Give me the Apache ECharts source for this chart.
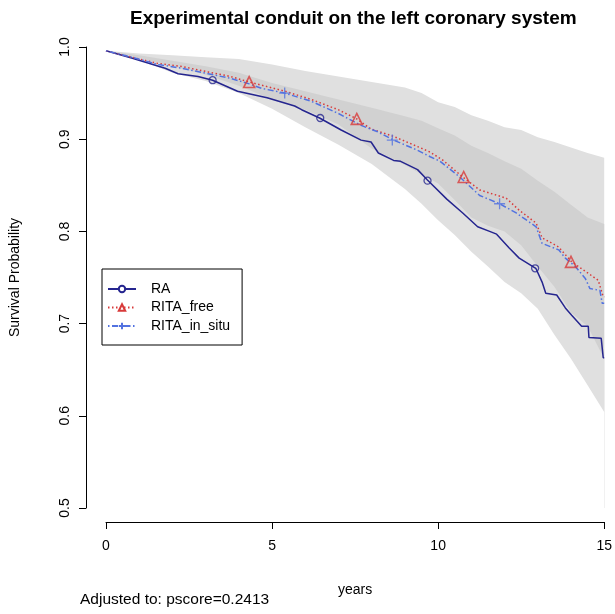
<!DOCTYPE html>
<html>
<head>
<meta charset="utf-8">
<script src="https://cdn.jsdelivr.net/npm/echarts@6/dist/echarts.min.js"></script>
<style>
html,body{margin:0;padding:0;background:#fff;}
#chart{width:615px;height:614px;}
</style>
</head>
<body>
<div id="chart"></div>
<script>
// ---- data ----
const titleText = 'Experimental conduit on the left coronary system';
const noteText = 'Adjusted to: pscore=0.2413';
const seriesNames = ['RA', 'RITA_free', 'RITA_in_situ'];

const raT = [0, 0.77, 1.78, 2.17, 2.77, 3.21, 3.96, 4.85, 5.68, 5.89, 6.43, 7.08, 7.68, 7.98, 8.2, 8.66, 8.87, 9.38, 9.67, 10.26, 10.74, 11.19, 11.55, 11.76, 12.14, 12.44, 12.94, 13.13, 13.24, 13.57, 13.83, 14.02, 14.32, 14.52, 14.54, 14.91, 14.97, 15];
const raS = [0.996, 0.988, 0.977, 0.971, 0.968, 0.964, 0.952, 0.945, 0.936, 0.932, 0.923, 0.910, 0.899, 0.897, 0.885, 0.877, 0.876, 0.867, 0.856, 0.835, 0.820, 0.805, 0.800, 0.797, 0.782, 0.771, 0.760, 0.745, 0.733, 0.731, 0.717, 0.709, 0.697, 0.697, 0.685, 0.684, 0.663, 0.663];

const freeT = [0, 0.77, 1.58, 2.26, 3.07, 3.75, 4.31, 4.85, 5.39, 6.19, 6.99, 7.55, 7.98, 8.66, 9.38, 9.76, 10.15, 10.74, 11.25, 12.05, 12.44, 12.95, 13.13, 13.54, 13.63, 14.02, 14.46, 14.82, 14.97, 15];
const freeS = [0.996, 0.989, 0.982, 0.979, 0.973, 0.968, 0.962, 0.957, 0.952, 0.943, 0.932, 0.922, 0.911, 0.903, 0.892, 0.886, 0.877, 0.859, 0.845, 0.836, 0.823, 0.809, 0.793, 0.785, 0.783, 0.767, 0.756, 0.747, 0.729, 0.729];

const situT = [0, 0.77, 1.58, 2.26, 3.07, 3.75, 4.31, 4.70, 5.38, 6.19, 6.99, 7.68, 8.18, 8.66, 9.38, 9.76, 10.06, 10.65, 11.25, 11.85, 12.35, 12.95, 13.13, 13.63, 13.83, 14.13, 14.43, 14.57, 14.87, 14.94, 15];
const situS = [0.996, 0.989, 0.981, 0.977, 0.971, 0.966, 0.960, 0.955, 0.950, 0.941, 0.928, 0.915, 0.908, 0.899, 0.888, 0.881, 0.876, 0.859, 0.839, 0.830, 0.820, 0.805, 0.787, 0.780, 0.771, 0.762, 0.749, 0.738, 0.736, 0.722, 0.722];

// marker positions on the curves
const raMarkT = [3.21, 6.45, 9.68, 12.92];
const raMarkS = [0.964, 0.923, 0.855, 0.760];
const freeMarkT = [4.31, 7.55, 10.77, 14.0];
const freeMarkS = [0.962, 0.922, 0.859, 0.767];
const situMarkT = [5.38, 8.62, 11.85];
const situMarkS = [0.950, 0.899, 0.830];

// confidence band edges
const bandT = [0, 1, 2, 3, 4, 5, 6, 7, 8, 9, 9.5, 10, 10.5, 11, 11.5, 12, 12.5, 13, 13.5, 14, 14.5, 15];
const ritaUpper = [0.996, 0.993, 0.991, 0.989, 0.987, 0.981, 0.974, 0.968, 0.962, 0.956, 0.950, 0.940, 0.935, 0.926, 0.920, 0.913, 0.910, 0.902, 0.897, 0.891, 0.885, 0.880];
const raUpper   = [0.996, 0.991, 0.985, 0.979, 0.972, 0.961, 0.952, 0.943, 0.934, 0.925, 0.920, 0.912, 0.904, 0.893, 0.885, 0.876, 0.868, 0.855, 0.843, 0.829, 0.815, 0.808];
const ritaLower = [0.996, 0.988, 0.979, 0.970, 0.958, 0.943, 0.932, 0.916, 0.890, 0.872, 0.862, 0.852, 0.834, 0.815, 0.806, 0.800, 0.785, 0.762, 0.740, 0.712, 0.697, 0.662];
const raLower   = [0.996, 0.986, 0.972, 0.963, 0.950, 0.933, 0.913, 0.894, 0.873, 0.846, 0.830, 0.812, 0.796, 0.778, 0.762, 0.745, 0.733, 0.716, 0.688, 0.662, 0.633, 0.604];

const xTickValues = [0, 5, 10, 15];
const yTickValues = [0.5, 0.6, 0.7, 0.8, 0.9, 1.0];

// ---- chart ----
const FONT = '"Liberation Sans", Arial, sans-serif';
const colRA = '#25258f';
const colFree = '#d83a3a';
const colSitu = '#5272e0';
const lightGrey = '#e0e0e0';
const darkGrey = '#d1d1d1';

const zip = (a, b) => a.map((t, i) => [t, b[i]]);

function bandSeries(vals, color) {
  return {
    type: 'line', data: zip(bandT, vals), symbol: 'none', silent: true,
    lineStyle: { width: 0, opacity: 0 },
    areaStyle: { color: color, opacity: 1, origin: 'start' },
    z: 1
  };
}

const crossPath = 'path://M0,5 L10,5 M5,0 L5,10';

const option = {
  animation: false,
  backgroundColor: '#fff',
  textStyle: { fontFamily: FONT },
  title: [
    { text: titleText, left: 130, top: 9, padding: 0,
      textStyle: { fontFamily: FONT, fontSize: 19, fontWeight: 'bold', color: '#000' } },
    { text: noteText, left: 80, top: 592, padding: 0,
      textStyle: { fontFamily: FONT, fontSize: 15.5, fontWeight: 'normal', color: '#000' } }
  ],
  grid: { left: 102, right: 9, top: 47, bottom: 106, containLabel: false },
  xAxis: {
    type: 'value', min: 0, max: 15, interval: 5, offset: 14,
    name: 'years', nameLocation: 'middle', nameGap: 61,
    nameTextStyle: { fontFamily: FONT, fontSize: 14, color: '#000' },
    axisLine: { show: true, onZero: false, lineStyle: { color: '#000', width: 1 } },
    axisTick: { show: true, length: 7, lineStyle: { color: '#000' } },
    axisLabel: { fontFamily: FONT, fontSize: 14, color: '#000', margin: 17,
      formatter: v => xTickValues.includes(v) ? String(v) : '' },
    splitLine: { show: false }
  },
  yAxis: {
    type: 'value', min: 0.5, max: 1.0, interval: 0.1, offset: 20,
    name: 'Survival Probability', nameLocation: 'middle', nameGap: 64,
    nameTextStyle: { fontFamily: FONT, fontSize: 14, color: '#000' },
    axisLine: { show: true, onZero: false, lineStyle: { color: '#000', width: 1 } },
    axisTick: { show: true, length: 7, lineStyle: { color: '#000' } },
    axisLabel: { fontFamily: FONT, fontSize: 14, color: '#000', margin: 14, rotate: 90,
      formatter: v => yTickValues.some(t => Math.abs(t - v) < 1e-9) ? v.toFixed(1) : '' },
    splitLine: { show: false }
  },
  legend: {
    data: seriesNames,
    orient: 'vertical', left: 102, top: 269,
    borderColor: '#000', borderWidth: 1, borderRadius: 0,
    padding: [13, 12, 12, 5], itemGap: 4.5,
    itemWidth: 28, itemHeight: 8,
    textStyle: { fontFamily: FONT, fontSize: 14, color: '#000', padding: [0, 0, 0, 10], lineHeight: 14 },
    backgroundColor: '#fff'
  },
  series: [
    bandSeries(ritaUpper, lightGrey),
    bandSeries(raUpper, darkGrey),
    bandSeries(ritaLower, lightGrey),
    bandSeries(raLower, '#ffffff'),
    { name: seriesNames[0], type: 'line', data: zip(raT, raS), showSymbol: false,
      symbol: 'emptyCircle', symbolSize: 7, color: colRA,
      lineStyle: { color: colRA, width: 1.5, type: 'solid' }, z: 3 },
    { name: seriesNames[1], type: 'line', data: zip(freeT, freeS), showSymbol: false,
      symbol: 'emptyTriangle', symbolSize: 10, color: colFree,
      lineStyle: { color: colFree, width: 1.5, type: [1.5, 2.5] }, z: 3 },
    { name: seriesNames[2], type: 'line', data: zip(situT, situS), showSymbol: false,
      symbol: crossPath, symbolSize: 11, color: colSitu,
      itemStyle: { color: 'none', borderColor: colSitu, borderWidth: 1.3 },
      lineStyle: { color: colSitu, width: 1.5, type: [1.5, 2.5, 6, 2.5] }, z: 3 },
    { type: 'scatter', data: zip(raMarkT, raMarkS), symbol: 'circle', symbolSize: 7,
      itemStyle: { color: 'rgba(0,0,0,0)', borderColor: colRA, borderWidth: 1.3 }, z: 4, silent: true },
    { type: 'scatter', data: zip(freeMarkT, freeMarkS), symbol: 'triangle', symbolSize: 11,
      itemStyle: { color: 'rgba(0,0,0,0)', borderColor: colFree, borderWidth: 1.6 }, z: 4, silent: true },
    { type: 'scatter', data: zip(situMarkT, situMarkS), symbol: crossPath, symbolSize: 11,
      itemStyle: { color: 'none', borderColor: colSitu, borderWidth: 1.3 }, z: 4, silent: true }
  ]
};

const chart = echarts.init(document.getElementById('chart'), null, { renderer: 'canvas' });
chart.setOption(option);
</script>
</body>
</html>
